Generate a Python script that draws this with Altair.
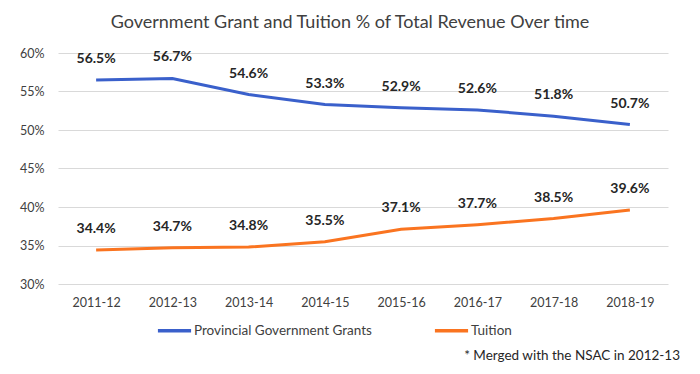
import altair as alt
import pandas as pd

years = ["2011-12", "2012-13", "2013-14", "2014-15", "2015-16", "2016-17", "2017-18", "2018-19"]
grants = [56.5, 56.7, 54.6, 53.3, 52.9, 52.6, 51.8, 50.7]
tuition = [34.4, 34.7, 34.8, 35.5, 37.1, 37.7, 38.5, 39.6]
series_names = ["Provincial Government Grants", "Tuition"]
colors = ["#3A60CB", "#FA7420"]
y_ticks = [0.30, 0.35, 0.40, 0.45, 0.50, 0.55, 0.60]

rows = []
for name, vals in zip(series_names, [grants, tuition]):
    for y, v in zip(years, vals):
        rows.append({"year": y, "series": name, "value": v / 100, "label": f"{v:.1f}%"})
df = pd.DataFrame(rows)

FONT = "Lato"

x = alt.X("year:N", sort=years, title=None,
          scale=alt.Scale(type="point", padding=0.5),
          axis=alt.Axis(labelAngle=0, labelFont=FONT, labelFontSize=12.5, labelColor="#404040",
                        ticks=False, domain=False, labelPadding=12, grid=False))
y = alt.Y("value:Q", title=None,
          scale=alt.Scale(domain=[0.30, 0.60], nice=False, zero=False),
          axis=alt.Axis(values=y_ticks, tickCount=7, format=".0%", labelFont=FONT, labelFontSize=12.5,
                        labelColor="#404040", ticks=False, domain=False, labelPadding=14,
                        labelOverlap=False, gridColor="#d9d9d9", gridWidth=1))
color = alt.Color("series:N", sort=series_names,
                  scale=alt.Scale(domain=series_names, range=colors),
                  legend=alt.Legend(title=None, orient="none", legendX=98, legendY=259,
                                    direction="horizontal", symbolType="stroke",
                                    symbolSize=1100, symbolStrokeWidth=3.5, labelLimit=300,
                                    labelFont=FONT, labelFontSize=13.5, labelColor="#404040",
                                    columnPadding=55, symbolOffset=0, labelOffset=1))

base = alt.Chart(df)
lines = base.mark_line(strokeWidth=3).encode(x=x, y=y, color=color)
labels = base.mark_text(dy=-21, font=FONT, fontSize=14, fontWeight="bold", color="#262626").encode(
    x=x, y=y, text="label:N")

note = alt.Chart(pd.DataFrame({"t": ["* Merged with the NSAC in 2012-13"]})).mark_text(
    align="right", baseline="middle", font=FONT, fontSize=13.5, color="#262626").encode(
    x=alt.value(622), y=alt.value(303), text="t:N")

chart = alt.layer(lines, labels, note).properties(
    width=610, height=231,
    title=alt.TitleParams("Government Grant and Tuition % of Total Revenue Over time",
                          font=FONT, fontSize=18, fontWeight="normal", color="#404040",
                          anchor="middle", dx=-13, offset=15),
    autosize=alt.AutoSizeParams(type="none"),
    padding={"left": 50, "top": 45, "right": 24, "bottom": 82},
).configure_view(stroke=None)

chart.save("out.html", embed_options={"renderer": "svg", "actions": False})
